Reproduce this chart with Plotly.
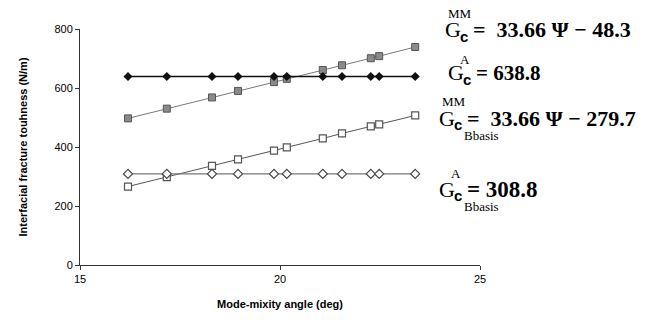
import plotly.graph_objects as go

# Data
psi = [16.2, 17.17, 18.3, 18.95, 19.85, 20.17, 21.07, 21.55, 22.27, 22.48, 23.38]
gc_mm = [497, 530, 568, 590, 620, 631, 661, 677, 701, 708, 739]
gc_a = [638.8] * 11
gc_mm_b = [266, 298, 336, 358, 388, 399, 429, 446, 470, 477, 507]
gc_a_b = [308.8] * 11

OFF = 8  # page body margin
W, H = 645, 312
L, T = 72, 21
PW, PH = 400, 236
R, B = W - L - PW, H - T - PH

fig = go.Figure()
fig.add_trace(go.Scatter(x=psi, y=gc_mm_b, mode="lines+markers",
                         line=dict(color="#555555", width=1),
                         marker=dict(symbol="square", size=7, color="white",
                                     line=dict(color="#555555", width=1.2))))
fig.add_trace(go.Scatter(x=psi, y=gc_a_b, mode="lines+markers",
                         line=dict(color="#777777", width=1.2),
                         marker=dict(symbol="diamond", size=7, color="white",
                                     line=dict(color="#444444", width=1.2))))
fig.add_trace(go.Scatter(x=psi, y=gc_mm, mode="lines+markers",
                         line=dict(color="#777777", width=1),
                         marker=dict(symbol="square", size=7, color="#8a8a8a",
                                     line=dict(color="#555555", width=1))))
fig.add_trace(go.Scatter(x=psi, y=gc_a, mode="lines+markers",
                         line=dict(color="#111111", width=1.5),
                         marker=dict(symbol="diamond", size=7, color="#111111")))


def px(x):
    return (x - OFF - L) / PW


def py(y):
    return (T + PH - (y - OFF)) / PH


serif = "Liberation Serif, Times New Roman, serif"
sans = "Liberation Sans, Arial, sans-serif"
ann = []


def add(text, x, y, size, font=serif, anchor="left"):
    ann.append(dict(text=text, x=px(x), y=py(y), xref="paper", yref="paper",
                    xanchor=anchor, yanchor="middle", showarrow=False,
                    font=dict(family=font, size=size, color="black")))


def eq(x0, yc, sup, rhs, sub=None, rhs_size=22, sup_dx=17, sup_dy=-16):
    add(sup, x0 + sup_dx, yc + sup_dy, 13, anchor="center")
    add("G", x0, yc, 22)
    add("<b>c</b>", x0 + 15, yc + 6, 15, font=sans)
    add(rhs, x0 + 28, yc, rhs_size)
    if sub:
        add(sub, x0 + 25, yc + 17, 13)


eq(443, 30, "MM", "<b>=  33.66 Ψ − 48.3</b>")
eq(446, 73, "A", "<b>= 638.8</b>", rhs_size=21, sup_dx=19, sup_dy=-14)
eq(437, 118, "MM", "<b>=  33.66 Ψ − 279.7</b>", sub="Bbasis")
eq(437, 189, "A", "<b>= 308.8</b>", sub="Bbasis", rhs_size=23, sup_dx=19, sup_dy=-15)

fig.update_layout(
    width=W, height=H, margin=dict(l=L, r=R, t=T, b=B),
    paper_bgcolor="white", plot_bgcolor="white", showlegend=False,
    font=dict(family=sans, size=11, color="black"),
    annotations=ann,
    xaxis=dict(range=[15, 25], tickvals=[15, 20, 25], showgrid=False, zeroline=False,
               showline=True, linecolor="#333333", linewidth=1,
               ticks="outside", ticklen=4, tickcolor="#333333",
               tickfont=dict(size=11, family=sans), automargin=False,
               title=dict(text="<b>Mode-mixity angle (deg)</b>", font=dict(size=11), standoff=16)),
    yaxis=dict(range=[0, 800], tickvals=[0, 200, 400, 600, 800], showgrid=False, zeroline=False,
               showline=True, linecolor="#333333", linewidth=1,
               ticks="outside", ticklen=4, tickcolor="#333333",
               tickfont=dict(size=11, family=sans), automargin=False,
               title=dict(text="<b>Interfacial fracture touhness (N/m)</b>", font=dict(size=11), standoff=24)),
)
fig.write_html("out.html")
